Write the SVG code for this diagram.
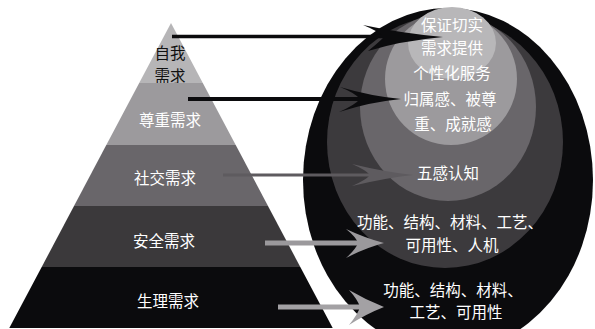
<svg xmlns="http://www.w3.org/2000/svg" width="595" height="329" viewBox="0 0 595 329">
<style>
.t{font-family:"Noto Sans CJK SC","Noto Sans",sans-serif;font-size:15.5px;text-anchor:middle;fill:#ffffff}
.k{fill:#111111}
</style>
<rect width="595" height="329" fill="#ffffff"/>
<g id="pyramid">
<g id="self"><polygon points="171,23 202.8,83 139.2,83" fill="#b6b5b7"/>
<text class="t k" x="170" y="59">自我</text><text class="t k" x="170" y="82">需求</text></g>
<g id="esteem"><polygon points="139.2,83 202.8,83 235.7,145 106.3,145" fill="#9c9a9d"/>
<text class="t" x="170" y="126">尊重需求</text></g>
<g id="social"><polygon points="106.3,145 235.7,145 268,206 74,206" fill="#69666a"/>
<text class="t" x="165" y="184">社交需求</text></g>
<g id="safety"><polygon points="74,206 268,206 300.3,267 41.7,267" fill="#3b393b"/>
<text class="t" x="164" y="247">安全需求</text></g>
<g id="physio"><polygon points="41.7,267 300.3,267 332.7,328 9.3,328" fill="#0b0b0d"/>
<text class="t" x="168" y="307">生理需求</text></g>
</g>
<g id="circles">
<g id="c5"><ellipse cx="448" cy="180" rx="145" ry="172" fill="#0b0b0d"/></g>
<g id="c4"><ellipse cx="445" cy="142" rx="118" ry="126" fill="#3c3a3d"/></g>
<g id="c3"><ellipse cx="448" cy="107" rx="88" ry="94" fill="#69666a"/></g>
<g id="c2"><ellipse cx="451" cy="79" rx="66" ry="66" fill="#9c9a9d"/></g>
<g id="c1"><ellipse cx="452" cy="43" rx="44" ry="36" fill="#b8b7b9"/></g>
</g>
<g id="connectors">
<line x1="172" y1="36.5" x2="400" y2="36.5" stroke="#0b0b0d" stroke-width="3.5"/>
<path d="M443,37 Q400,33 363,25 Q378,31 384,37 Q378,43 368,51 Q400,41 443,37Z" fill="#0b0b0d"/>
<line x1="188" y1="99" x2="370" y2="99" stroke="#0b0b0d" stroke-width="4"/>
<path d="M401,99 Q370,96 340,87 Q355,93 360,99 Q355,105 339,112 Q370,102 401,99Z" fill="#0b0b0d"/>
<line x1="223" y1="175" x2="380" y2="175" stroke="#5e5b5f" stroke-width="3"/>
<path d="M413,175 Q385,172 352,164 Q366,170 370,175 Q366,180 352,186 Q385,178 413,175Z" fill="#5e5b5f"/>
<line x1="265" y1="243" x2="362" y2="243" stroke="#9b999c" stroke-width="5"/>
<path d="M384,243 Q365,238 346,229 Q356,237 358,243 Q356,249 346,258 Q365,248 384,243Z" fill="#9b999c"/>
<line x1="278" y1="307" x2="362" y2="307" stroke="#a3a1a4" stroke-width="5"/>
<path d="M384,307 Q366,300 349,290 Q358,300 360,307 Q358,314 349,325 Q366,314 384,307Z" fill="#a3a1a4"/>
</g>
<g id="labels">
<text class="t" x="452" y="31">保证切实</text>
<text class="t" x="452" y="54">需求提供</text>
<text class="t" x="452" y="79">个性化服务</text>
<text class="t" x="450" y="105">归属感、被尊</text>
<text class="t" x="453" y="130">重、成就感</text>
<text class="t" x="448" y="179">五感认知</text>
<text class="t" x="450" y="228">功能、结构、材料、工艺、</text>
<text class="t" x="452" y="251">可用性、人机</text>
<text class="t" x="453" y="296">功能、结构、材料、</text>
<text class="t" x="456" y="318">工艺、可用性</text>
</g>
</svg>
